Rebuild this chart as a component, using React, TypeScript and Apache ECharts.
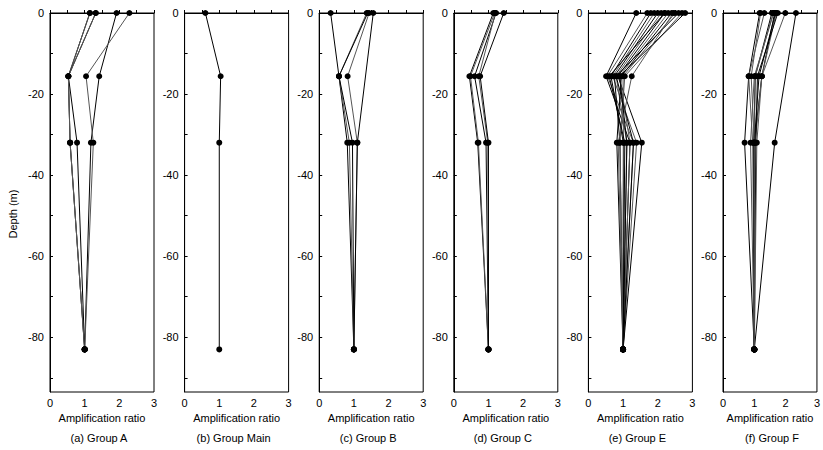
import React, { useEffect, useRef } from "react";
import * as echarts from "echarts";

// Depth levels (m) at which amplification ratio was computed
const DEPTHS = [0, -15.6, -32, -83];

// Amplification ratio profiles per group: [surface, -15.6 m, -32 m, -83 m]; null = no value
const GROUP_A: (number | null)[][] = [
  [1.15, 0.53, 0.58, 1.0],
  [1.15, 0.53, 0.58, 1.0],
  [1.32, 0.53, 0.78, 1.0],
  [1.32, 0.53, 0.58, 1.0],
  [1.92, 1.42, 1.18, 1.0],
  [2.29, 1.04, 1.25, 1.0],
];
const GROUP_MAIN: (number | null)[][] = [[0.6, 1.04, 1.0, 1.0]];
const GROUP_B: (number | null)[][] = [
  [0.33, 0.57, 0.81, 1.0],
  [1.37, 0.57, 0.87, 1.0],
  [1.4, 0.57, 0.96, 1.0],
  [1.44, 0.82, 1.1, 1.0],
  [1.56, null, 1.1, 1.0],
];
const GROUP_C: (number | null)[][] = [
  [1.14, 0.45, 0.69, 1.0],
  [1.18, 0.48, 0.71, 1.0],
  [1.22, 0.6, 0.93, 1.0],
  [1.2, 0.72, 0.98, 1.0],
  [1.44, 0.76, 1.0, 1.0],
];
const GROUP_E: (number | null)[][] = [
  [1.38, 0.51, 1.2, 1.0],
  [1.7, 0.55, 1.3, 1.0],
  [1.8, 0.65, 1.01, 1.0],
  [1.9, 0.7, 1.39, 1.0],
  [2.0, 0.75, 0.91, 1.0],
  [2.1, 0.8, 1.11, 1.0],
  [2.2, 0.85, 1.54, 1.0],
  [2.3, 0.9, 1.2, 1.0],
  [2.4, 0.95, 0.82, 1.0],
  [2.5, 1.0, 1.01, 1.0],
  [2.6, 0.8, 1.3, 1.0],
  [2.7, 1.05, 0.91, 1.0],
  [2.79, 0.9, 1.11, 1.0],
  [2.45, 1.25, 0.86, 1.0],
  [2.2, 0.6, 1.05, 1.0],
];
const GROUP_F: (number | null)[][] = [
  [1.17, 0.82, 0.69, 1.0],
  [1.32, 0.82, 0.95, 1.0],
  [1.56, 1.03, 0.98, 1.0],
  [1.6, 1.03, 1.0, 1.0],
  [1.65, 1.24, 1.0, 1.0],
  [1.7, 1.24, 1.02, 1.0],
  [1.75, 1.1, 1.05, 1.0],
  [1.99, 1.24, 1.08, 1.0],
  [2.33, null, 1.65, 1.0],
  [1.62, 1.0, 0.88, 1.0],
  [1.68, 1.15, 1.0, 1.0],
  [1.2, 0.9, 1.0, 1.0],
];

const PANELS = [GROUP_A, GROUP_MAIN, GROUP_B, GROUP_C, GROUP_E, GROUP_F];
const CAPTIONS = [
  "(a) Group A",
  "(b) Group Main",
  "(c) Group B",
  "(d) Group C",
  "(e) Group E",
  "(f) Group F",
];
const Y_TICKS = [0, -10, -20, -30, -40, -50, -60, -70, -80, -90];
const Y_LABELS = [0, -20, -40, -60, -80];
const X_TITLE = "Amplification ratio";
const Y_TITLE = "Depth (m)";

const FONT = "Liberation Sans, Arial, sans-serif";

export default function App() {
  const ref = useRef<HTMLDivElement>(null);
  useEffect(() => {
    if (!ref.current) return;
    const chart = echarts.init(ref.current, undefined, { renderer: "svg" });
    const left0 = 50;
    const step = 134.6;
    const w = 104;
    const grids = PANELS.map((_, i) => ({
      left: left0 + i * step,
      top: 13,
      width: w,
      height: 379,
      show: true,
      borderColor: "#000",
      borderWidth: 1,
      backgroundColor: "transparent",
    }));
    const xAxes = PANELS.map((_, i) => ({
      type: "value",
      gridIndex: i,
      min: 0,
      max: 3,
      interval: 1,
      axisLine: { show: true, lineStyle: { color: "#000", width: 1 } },
      axisTick: { show: true, inside: true, length: 3, lineStyle: { color: "#000" } },
      minorTick: { show: true, splitNumber: 2, length: 3, lineStyle: { color: "#000" } },
      splitLine: { show: false },
      axisLabel: { color: "#000", fontSize: 11, fontFamily: FONT, margin: 5 },
      name: X_TITLE,
      nameLocation: "middle",
      nameGap: 20,
      nameTextStyle: { color: "#000", fontSize: 11, fontFamily: FONT },
    }));
    const yAxes = PANELS.map((_, i) => ({
      type: "value",
      gridIndex: i,
      min: -93.5,
      max: 0,
      axisLine: { show: true, lineStyle: { color: "#000", width: 1 } },
      axisTick: {
        show: true,
        inside: true,
        length: 3,
        customValues: Y_TICKS,
        lineStyle: { color: "#000" },
      },
      splitLine: { show: false },
      axisLabel: {
        color: "#000",
        fontSize: 11,
        fontFamily: FONT,
        margin: 6,
        customValues: Y_LABELS,
        formatter: (v: number) => String(v),
      },
    }));
    const series: any[] = [];
    PANELS.forEach((profiles, p) => {
      profiles.forEach((prof, k) => {
        const data = prof
          .map((x, j) => (x === null ? null : [x, DEPTHS[j]]))
          .filter((d) => d !== null);
        series.push({
          type: "line",
          xAxisIndex: p,
          yAxisIndex: p,
          data,
          symbol: "circle",
          symbolSize: 6,
          clip: false,
          itemStyle: { color: "#000" },
          lineStyle: { width: 1, color: k % 2 === 0 ? "#000" : "#555" },
          z: 3,
        });
      });
    });
    const graphic: any[] = [
      {
        type: "text",
        x: 13,
        y: 214,
        rotation: Math.PI / 2,
        style: {
          text: Y_TITLE,
          fill: "#000",
          fontSize: 11,
          fontFamily: FONT,
          align: "center",
          verticalAlign: "middle",
        },
      },
      ...CAPTIONS.map((c, i) => ({
        type: "text",
        x: left0 + i * step + w / 2 - 3,
        y: 438,
        style: {
          text: c,
          fill: "#000",
          fontSize: 11,
          fontFamily: FONT,
          align: "center",
          verticalAlign: "middle",
        },
      })),
    ];
    chart.setOption({
      animation: false,
      backgroundColor: "#fff",
      grid: grids,
      xAxis: xAxes,
      yAxis: yAxes,
      series,
      graphic,
    });
    return () => chart.dispose();
  }, []);
  return (
    <div
      ref={ref}
      style={{ position: "fixed", left: 0, top: 0, width: 823, height: 450, background: "#fff" }}
    />
  );
}
